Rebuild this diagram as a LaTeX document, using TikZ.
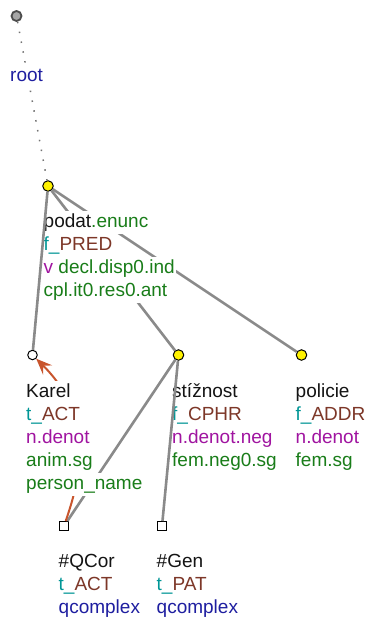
\documentclass[tikz,border=0pt]{standalone}
\usepackage{fontspec}
\setmainfont{Liberation Sans}
\usetikzlibrary{arrows.meta}

\definecolor{formblack}{RGB}{20,20,20}
\definecolor{prefteal}{RGB}{0,150,150}
\definecolor{functbrown}{RGB}{125,55,40}
\definecolor{typepurple}{RGB}{160,20,160}
\definecolor{grmgreen}{RGB}{25,125,25}
\definecolor{qblue}{RGB}{30,30,160}
\definecolor{edgegray}{RGB}{138,138,138}
\definecolor{corefred}{RGB}{200,85,45}

% one line of a label, white behind it so that edges vanish under the text
\setlength{\fboxsep}{0pt}
\newcommand\tline[1]{\colorbox{white}{\rule[-6.5pt]{0pt}{23pt}\hspace{1.5pt}#1\hspace{1.5pt}}}

\begin{document}
\begin{tikzpicture}[x=1pt, y=-1pt]

        \tikzset{
            tnode/.style={circle, draw=black, line width=1pt, fill=yellow, inner sep=0pt, minimum size=10.5pt},
            anode/.style={tnode, fill=white, minimum size=9.5pt},
            rootnode/.style={circle, draw=black!70, line width=1.8pt, fill=black!35, inner sep=0pt, minimum size=10pt},
            qnode/.style={rectangle, draw=black, line width=1pt, fill=white, inner sep=0pt, minimum size=9pt},
            tlabel/.style={anchor=north west, inner sep=0pt, align=left, font=\fontsize{19}{23}\selectfont},
            edge/.style={draw=edgegray, line width=2.6pt},
            rootedge/.style={draw=black!55, line width=1.5pt, dash pattern=on 1.5pt off 8.5pt},
            coref/.style={draw=corefred, line width=2pt, -{Stealth[length=16pt, width=13pt, inset=6pt]}}
        }

        \useasboundingbox (0,0) rectangle (371,623);

        % --- Tree nodes ---
        \node[rootnode] (root) at (16.5,16) {};
        \node[tnode] (podat) at (48,186) {};
        \node[anode] (karel) at (32.5,355) {};
        \node[tnode] (stiznost) at (178.5,355) {};
        \node[tnode] (policie) at (301.5,355) {};
        \node[qnode] (qcor) at (64,526) {};
        \node[qnode] (gen) at (162,526) {};

        % --- Edges hidden under the labels ---
        \draw[rootedge] (root) -- (podat);
        \foreach \a/\b in {podat/stiznost, podat/policie, stiznost/qcor}
            \draw[edge] (\a) -- (\b);

        % coreference arrow #QCor -> Karel
        \draw[coref] (qcor) .. controls (78,485) and (98,420) .. (karel);

        % --- Labels ---
        \node[tlabel] (rootlab) at (8.5,65) {\tline{\color{qblue}root}};
        \node[tlabel] (podatlab) at (42,210.5) {%
            \tline{\color{formblack}podat\color{grmgreen}.enunc}\\
            \tline{\color{prefteal}f\_\color{functbrown}PRED}\\
            \tline{\color{typepurple}v \color{grmgreen}decl.disp0.ind}\\
            \tline{\color{grmgreen}cpl.it0.res0.ant}};
        \node[tlabel] (karellab) at (24.5,380.5) {%
            \tline{\color{formblack}Karel}\\
            \tline{\color{prefteal}t\_\color{functbrown}ACT}\\
            \tline{\color{typepurple}n.denot}\\
            \tline{\color{grmgreen}anim.sg}\\
            \tline{\color{grmgreen}person\_name}};
        \node[tlabel] (stiznostlab) at (170.5,380.5) {%
            \tline{\color{formblack}stížnost}\\
            \tline{\color{prefteal}f\_\color{functbrown}CPHR}\\
            \tline{\color{typepurple}n.denot.neg}\\
            \tline{\color{grmgreen}fem.neg0.sg}};
        \node[tlabel] (policielab) at (294,380.5) {%
            \tline{\color{formblack}policie}\\
            \tline{\color{prefteal}f\_\color{functbrown}ADDR}\\
            \tline{\color{typepurple}n.denot}\\
            \tline{\color{grmgreen}fem.sg}};
        \node[tlabel] (qcorlab) at (57,550.5) {%
            \tline{\color{formblack}\#QCor}\\
            \tline{\color{prefteal}t\_\color{functbrown}ACT}\\
            \tline{\color{qblue}qcomplex}};
        \node[tlabel] (genlab) at (155,550.5) {%
            \tline{\color{formblack}\#Gen}\\
            \tline{\color{prefteal}t\_\color{functbrown}PAT}\\
            \tline{\color{qblue}qcomplex}};

        % --- Edges drawn over the labels ---
        \draw[edge] (podat) -- (karel);
        \draw[edge] (stiznost) -- (gen);

\end{tikzpicture}
\end{document}
